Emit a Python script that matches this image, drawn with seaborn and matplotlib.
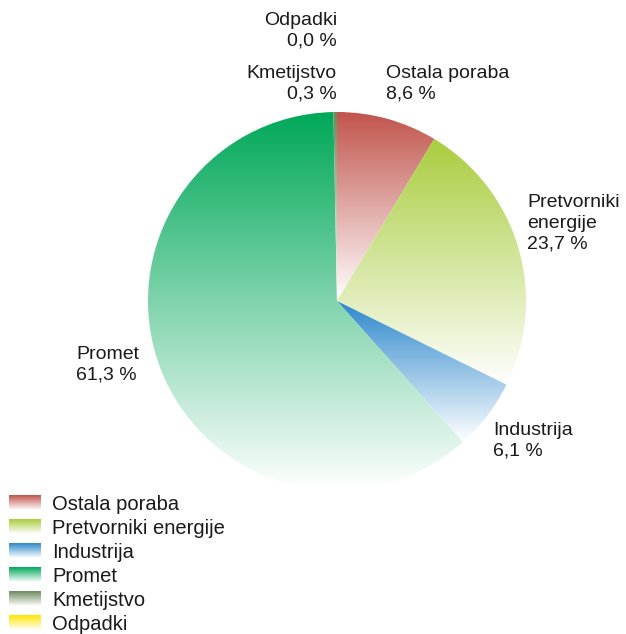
import numpy as np
import matplotlib
matplotlib.use("Agg")
import matplotlib.pyplot as plt
from matplotlib.colors import to_rgb
import seaborn as sns

# Energy-related emissions by sector (share, %)
sectors = ["Ostala poraba", "Pretvorniki energije", "Industrija", "Promet",
           "Kmetijstvo", "Odpadki"]
shares = [8.6, 23.7, 6.1, 61.3, 0.3, 0.0]
pie_labels = ["Ostala poraba\n8,6 %", "Pretvorniki\nenergije\n23,7 %",
              "Industrija\n6,1 %", "Promet\n61,3 %", "Kmetijstvo\n0,3 %",
              "Odpadki\n0,0 %"]
colors = ["#c1544c", "#a9cd3e", "#2d88cc", "#00a859", "#6e8a5c", "#ffe600"]

sns.set_theme(style="white")
plt.rcParams["font.family"] = ["Liberation Sans", "DejaVu Sans"]

W, H = 626, 634
fig = plt.figure(figsize=(W / 100, H / 100), dpi=100)
ax = fig.add_axes([0, 0, 1, 1])

cx, cy, R = 337, H - 301, 189
wedges, _ = ax.pie(shares, startangle=90, counterclock=False,
                   radius=R, center=(cx, cy), colors=colors,
                   wedgeprops=dict(linewidth=0))
ax.set_xlim(0, W)
ax.set_ylim(0, H)
ax.set_aspect("auto")
ax.axis("off")


def gradient(col, n=256):
    """Vertical ramp: full colour at the top, fading to white at the bottom."""
    c = np.array(to_rgb(col))
    t = np.linspace(0.0, 1.0, n)[:, None]  # 0 = bottom, 1 = top
    rgb = 1.0 - t * (1.0 - c)
    return np.repeat(rgb[:, None, :], 2, axis=1)


for w, col, val in zip(wedges, colors, shares):
    if val <= 0:
        continue
    ext = w.get_path().get_extents()
    w.set_facecolor("none")
    im = ax.imshow(gradient(col), origin="lower", aspect="auto",
                   extent=(ext.x0, ext.x1, ext.y0, ext.y1),
                   interpolation="bilinear", zorder=1)
    im.set_clip_path(w)

# Slice annotations
txt = dict(fontsize=14, color="#1a1a1a", linespacing=1.28, va="top")
ax.text(337, H - 12, pie_labels[5], ha="right", multialignment="right", **txt)
ax.text(337, H - 65, pie_labels[4], ha="right", multialignment="right", **txt)
ax.text(386, H - 65, pie_labels[0], ha="left", **txt)
ax.text(527, H - 194, pie_labels[1], ha="left", **txt)
ax.text(493, H - 422, pie_labels[2], ha="left", **txt)
ax.text(76, H - 346, pie_labels[3], ha="left", **txt)

# Legend with gradient swatches
for i, (name, col) in enumerate(zip(sectors, colors)):
    yc = H - (503 + 24 * i)
    ax.imshow(gradient(col), origin="lower", aspect="auto",
              extent=(9, 41, yc - 7.5, yc + 7.5), interpolation="bilinear",
              zorder=2)
    ax.text(52, yc - 1, name, fontsize=14.5, color="#1a1a1a", ha="left",
            va="center")

ax.set_xlim(0, W)
ax.set_ylim(0, H)
fig.savefig("out.png", dpi=100, facecolor="white")
